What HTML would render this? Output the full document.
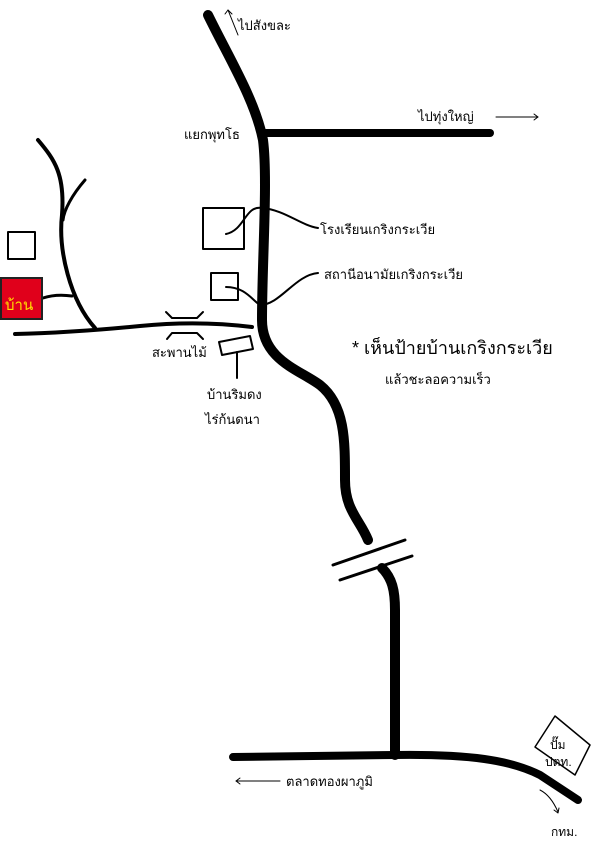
<!DOCTYPE html>
<html><head><meta charset="utf-8"><style>
body{margin:0;background:#fff}
text{font-family:"Liberation Sans","Noto Sans CJK SC",sans-serif;fill:#000}
</style></head><body>
<svg width="600" height="855" viewBox="0 0 600 855" xmlns="http://www.w3.org/2000/svg">
<g fill="none" stroke="#000" stroke-linecap="round" stroke-linejoin="round">
<path d="M208 15 C230 60 255 100 263 140 C268 180 262 260 262 320 C262 360 300 370 320 385 C345 405 345 440 345 480 C345 510 360 520 368 540" stroke-width="10"/>
<path d="M382 568 C392 578 395 590 395 610 L395 755" stroke-width="10"/>
<path d="M333 565 L405 540" stroke-width="3"/>
<path d="M340 580 L412 556" stroke-width="3"/>
<path d="M263 133 L490 133" stroke-width="8"/>
<path d="M233 757 L395 755 C470 754 510 760 540 775 L578 800" stroke-width="8"/>
<path d="M38 140 C55 160 65 175 62 215 C58 250 70 300 95 328" stroke-width="4"/>
<path d="M85 180 C72 195 64 210 63 220" stroke-width="3"/>
<path d="M43 298 C55 294 65 295 72 296" stroke-width="3"/>
<path d="M15 334 C60 333 100 330 140 326 C180 322 220 323 252 327" stroke-width="4"/>
<path d="M166 312 L172 318 L197 318 L203 312" stroke-width="2"/>
<path d="M167 339 L172 333 L197 333 L203 339" stroke-width="2"/>
<rect x="8" y="232" width="27" height="27" stroke-width="2"/>
<rect x="203" y="208" width="41" height="41" stroke-width="2"/>
<rect x="211" y="273" width="27" height="27" stroke-width="2"/>
<path d="M219 342 L250 336 L253 349 L222 355 Z" stroke-width="2"/>
<path d="M237 352 L237 378" stroke-width="2"/>
<path d="M226 234 C245 230 245 205 262 208 C285 210 300 225 318 228" stroke-width="2"/>
<path d="M226 287 C245 287 252 300 260 305 C280 305 295 275 318 273" stroke-width="2"/>
<path d="M228 10 L238 35" stroke-width="1"/>
<path d="M225 14 L228 10 L232 14" stroke-width="1"/>
<path d="M496 117 L538 117" stroke-width="1"/>
<path d="M534 114 L538 117 L534 120" stroke-width="1"/>
<path d="M236 781 L280 781" stroke-width="1"/>
<path d="M240 778 L236 781 L240 784" stroke-width="1"/>
<path d="M540 790 C550 795 555 805 558 812" stroke-width="1"/>
<path d="M554 810 L558 813 L559 808" stroke-width="1"/>
<path d="M555 716 L590 745 L575 775 L535 747 Z" stroke-width="1.5"/>
</g>
<rect x="1" y="278" width="41" height="41" fill="#e0001b" stroke="#222" stroke-width="2"/>
<text x="5" y="310" font-size="15" style="fill:#ffe000">บ้าน</text>
<text x="238" y="30" font-size="13">ไปสังขละ</text>
<text x="418" y="121" font-size="13">ไปทุ่งใหญ่</text>
<text x="184" y="139" font-size="13">แยกพุทโธ</text>
<text x="320" y="234" font-size="13">โรงเรียนเกริงกระเวีย</text>
<text x="324" y="279" font-size="13">สถานีอนามัยเกริงกระเวีย</text>
<text x="352" y="354" font-size="18">* เห็นป้ายบ้านเกริงกระเวีย</text>
<text x="385" y="384" font-size="13">แล้วชะลอความเร็ว</text>
<text x="152" y="357" font-size="13">สะพานไม้</text>
<text x="207" y="399" font-size="13">บ้านริมดง</text>
<text x="205" y="424" font-size="13">ไร่ก้นดนา</text>
<text x="286" y="786" font-size="13">ตลาดทองผาภูมิ</text>
<text x="550" y="749" font-size="12">ปั๊ม</text>
<text x="545" y="766" font-size="12">ปตท.</text>
<text x="551" y="836" font-size="12">กทม.</text>
</svg>
</body></html>
